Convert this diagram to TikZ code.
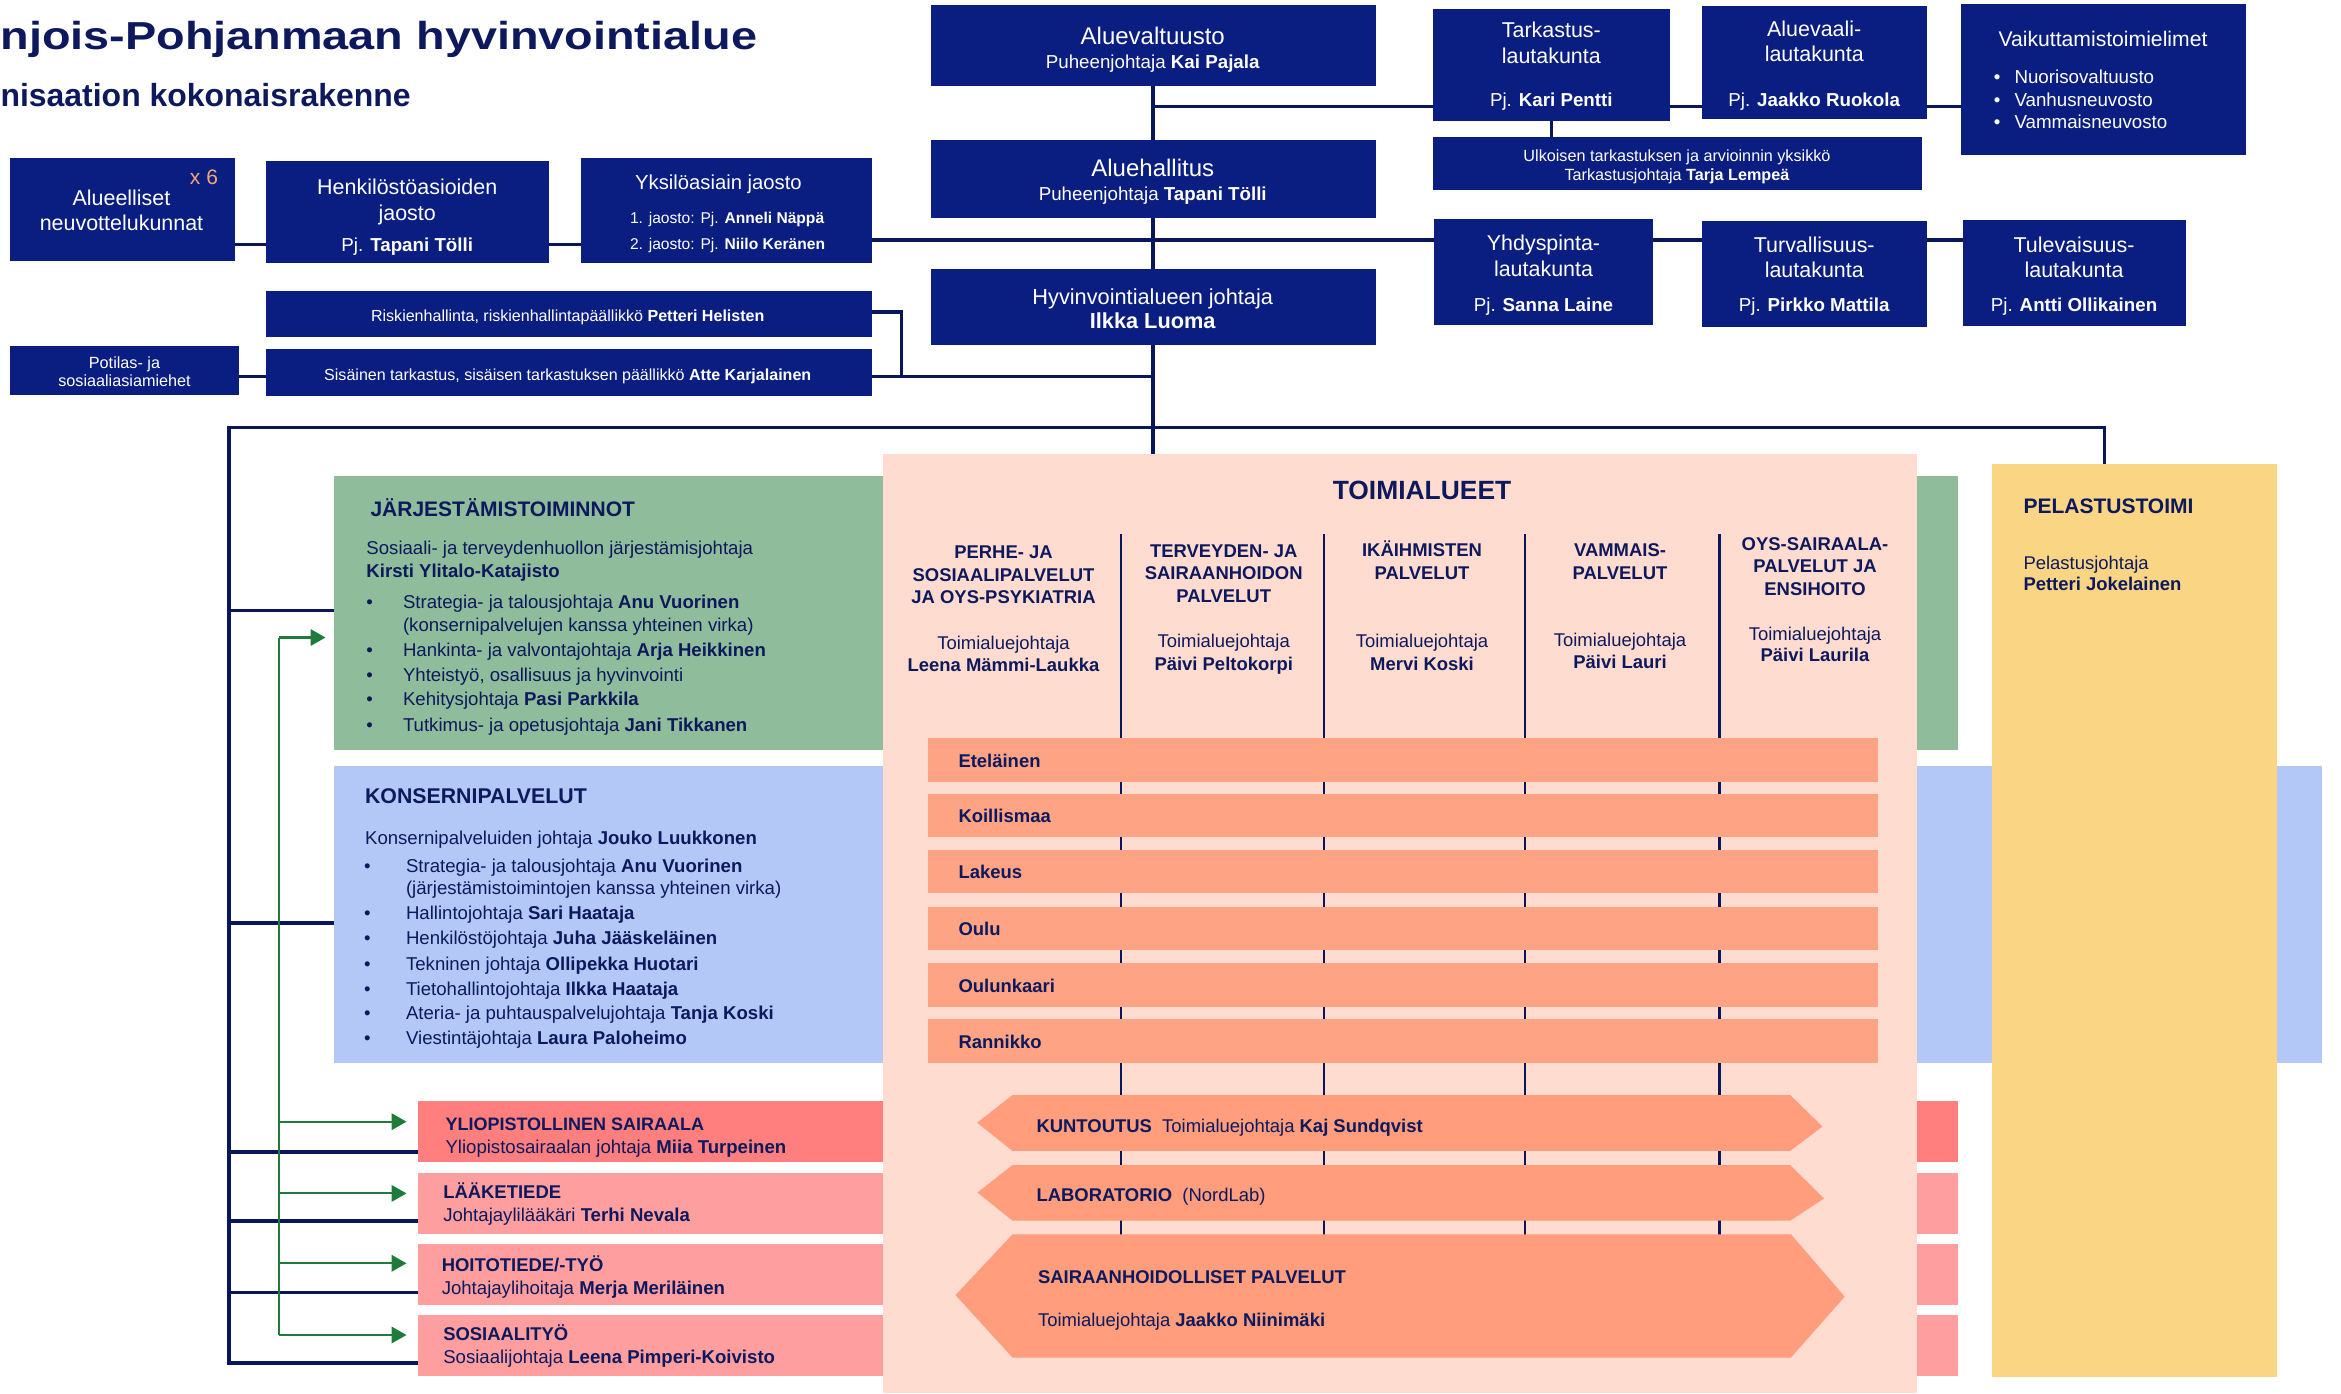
\documentclass[tikz,border=0pt]{standalone}
\usepackage{fontspec}
\usepackage{graphicx}
\setmainfont{Liberation Sans}
\usetikzlibrary{arrows.meta}

\definecolor{boxnavy}{RGB}{10,30,130}
\definecolor{linenavy}{RGB}{10,22,90}
\definecolor{txtnavy}{RGB}{13,25,92}
\definecolor{jgreen}{RGB}{143,188,154}
\definecolor{kblue}{RGB}{180,200,248}
\definecolor{peach}{RGB}{255,220,207}
\definecolor{barsal}{RGB}{255,163,133}
\definecolor{hexsal}{RGB}{255,157,124}
\definecolor{yred}{RGB}{255,127,127}
\definecolor{lpink}{RGB}{255,158,158}
\definecolor{pyellow}{RGB}{249,213,132}
\definecolor{agreen}{RGB}{30,123,58}
\definecolor{xorange}{RGB}{244,164,120}

\newcommand\mkbox[6][]{\node[rbox,#1,minimum width={#4-#2},minimum height={#5-#3}] (#6) at ({(#2+#4)/2},{(#3+#5)/2}) {};}
\newcommand\tlin[5][]{\node[tline,#1] (#2) at (#3,#4) {#5};}

\begin{document}
\begin{tikzpicture}[x=1pt,y=-1pt,
  rbox/.style={fill=boxnavy,draw=none,inner sep=0pt,outer sep=0pt},
  tline/.style={inner sep=0pt,outer sep=0pt,anchor=mid,text=white},
  dk/.style={text=txtnavy},
  lw/.style={anchor=mid west},
  fz/.style={font={\fontsize{#1}{#1}\selectfont},yshift={-0.18*#1}},
  conn/.style={draw=linenavy,line width=2.5pt},
  gline/.style={draw=agreen,line width=1.4pt},
  garr/.style={gline,-{Triangle[length=10pt,width=11pt]}},
  divl/.style={draw=linenavy,line width=1.6pt},
  hexa/.style={fill=hexsal}]
\useasboundingbox (0,0) rectangle (1560.67,928.67);
\fill[white] (0,0) rectangle (1560.67,928.67);

% ---------- titles
\node[inner sep=0pt,anchor=base east,text=txtnavy] (title) at (505,32.8)
  {\scalebox{1.2}[1]{\fontsize{26}{30}\selectfont\bfseries njois-Pohjanmaan hyvinvointialue}};
\node[inner sep=0pt,anchor=base east,text=txtnavy] (subtitle) at (274,70.9)
  {\fontsize{21.3}{24}\selectfont\bfseries nisaation kokonaisrakenne};

% ---------- top boxes
\mkbox{620.5}{3.5}{917}{57.5}{valt}
\mkbox{620.5}{93}{917}{145}{hall}
\mkbox{620.5}{179}{917}{230}{johtaja}
\mkbox{955.5}{6}{1113}{80.4}{tark}
\mkbox{1134.5}{4}{1284.5}{79}{alvaali}
\mkbox{1307}{2.7}{1497.5}{103}{vaik}
\mkbox{955.5}{91.3}{1281}{126.7}{ulk}
\mkbox{956}{146}{1102}{216.4}{yhd}
\mkbox{1134.5}{147.3}{1284.5}{218}{turv}
\mkbox{1308.5}{146.7}{1457}{217}{tulev}
\mkbox{6.5}{105.6}{156.5}{173.8}{alue}
\mkbox{177}{107}{366}{175}{henk}
\mkbox{387}{105.6}{581}{175}{yksi}
\mkbox{177}{194}{581}{224.4}{risk}
\mkbox{177}{232.7}{581}{263.8}{sis}
\mkbox{6.5}{230.7}{159.6}{263}{pot}

\tlin[fz=16]{valt1}{768.5}{24}{Aluevaltuusto}
\tlin[fz=12.5]{valt2}{768.5}{40.7}{Puheenjohtaja \textbf{Kai Pajala}}
\tlin[fz=16]{hall1}{768.5}{112}{Aluehallitus}
\tlin[fz=12.5]{hall2}{768.5}{129}{Puheenjohtaja \textbf{Tapani Tölli}}
\tlin[fz=14.5]{joht1}{768.5}{198}{Hyvinvointialueen johtaja}
\tlin[fz=14.5]{joht2}{768.5}{214}{\textbf{Ilkka Luoma}}
\tlin[fz=14.3]{tark1}{1034.2}{20}{Tarkastus-}
\tlin[fz=14.3]{tark2}{1034.2}{37}{lautakunta}
\tlin[fz=12.5]{tark3}{1034.2}{66}{Pj. \textbf{Kari Pentti}}
\tlin[fz=14.3]{alv1}{1209.5}{19}{Aluevaali-}
\tlin[fz=14.3]{alv2}{1209.5}{36}{lautakunta}
\tlin[fz=12.5]{alv3}{1209.5}{66}{Pj. \textbf{Jaakko Ruokola}}
\tlin[fz=14.1]{vaik0}{1402}{26}{Vaikuttamistoimielimet}
\foreach \y/\t [count=\i] in {51/Nuorisovaltuusto,66/Vanhusneuvosto,81/Vammaisneuvosto}{
  \node[tline,fz=12.5] (vb\i) at (1331.5,\y) {•};
  \node[tline,lw,fz=12.5] (vt\i) at (1343,\y) {\t};}
\tlin[fz=10.8]{ulk1}{1118}{103}{Ulkoisen tarkastuksen ja arvioinnin yksikkö}
\tlin[fz=10.8]{ulk2}{1118}{115.6}{Tarkastusjohtaja \textbf{Tarja Lempeä}}
\tlin[fz=14.3]{yhd1}{1029}{162}{Yhdyspinta-}
\tlin[fz=14.3]{yhd2}{1029}{179}{lautakunta}
\tlin[fz=12.5]{yhd3}{1029}{203}{Pj. \textbf{Sanna Laine}}
\tlin[fz=14.3]{turv1}{1209.5}{163}{Turvallisuus-}
\tlin[fz=14.3]{turv2}{1209.5}{180}{lautakunta}
\tlin[fz=12.5]{turv3}{1209.5}{203}{Pj. \textbf{Pirkko Mattila}}
\tlin[fz=14.3]{tul1}{1382.7}{163}{Tulevaisuus-}
\tlin[fz=14.3]{tul2}{1382.7}{180}{lautakunta}
\tlin[fz=12.5]{tul3}{1382.7}{203}{Pj. \textbf{Antti Ollikainen}}
\tlin[fz=14.3]{alue1}{81}{132}{Alueelliset}
\tlin[fz=14.3]{alue2}{81}{148.4}{neuvottelukunnat}
\tlin[fz=14,text=xorange]{alue3}{136}{118}{x 6}
\tlin[fz=14.3]{henk1}{271.5}{124.4}{Henkilöstöasioiden}
\tlin[fz=14.3]{henk2}{271.5}{141.6}{jaosto}
\tlin[fz=12.5]{henk3}{271.5}{163}{Pj. \textbf{Tapani Tölli}}
\tlin[fz=13.5]{yksi1}{479}{121}{Yksilöasiain jaosto}
\tlin[lw,fz=10.4]{yksi2}{420}{144.4}{1. jaosto: Pj. \textbf{Anneli Näppä}}
\tlin[lw,fz=10.4]{yksi3}{420}{161.8}{2. jaosto: Pj. \textbf{Niilo Keränen}}
\tlin[fz=10.7]{risk1}{378.5}{209.6}{Riskienhallinta, riskienhallintapäällikkö \textbf{Petteri Helisten}}
\tlin[fz=10.7]{sis1}{378.5}{249}{Sisäinen tarkastus, sisäisen tarkastuksen päällikkö \textbf{Atte Karjalainen}}
\tlin[fz=10.8]{pot1}{83}{241}{Potilas- ja}
\tlin[fz=10.8]{pot2}{83}{253}{sosiaaliasiamiehet}

% ---------- lower blocks
\mkbox[fill=jgreen]{222.6}{317.3}{1305}{499.7}{jarj}
\mkbox[fill=kblue]{222.6}{510.7}{1548}{708.5}{kons}
\mkbox[fill=yred]{278.6}{734}{1305}{774.4}{ylio}
\mkbox[fill=lpink]{278.6}{782}{1305}{822.4}{laak}
\mkbox[fill=lpink]{278.6}{829.3}{1305}{870}{hoito}
\mkbox[fill=lpink]{278.6}{876.7}{1305}{917.1}{sos}
\mkbox[fill=peach]{588.6}{302.6}{1278}{928.67}{toim}
\mkbox[fill=pyellow]{1328}{309}{1518}{918}{pel}

% ---------- connectors (top)
\coordinate (j71) at (768.5,71);
\coordinate (h160) at (0,160);
\coordinate (h163) at (0,163);
\coordinate (y208) at (0,208);
\coordinate (brk) at (601,251);
\draw[conn] (valt.south) -- (hall.north);
\draw[conn] (hall.south) -- (johtaja.north);
\draw[conn] (johtaja.south) -- (johtaja.south |- toim.north);
\draw[conn] (j71) -- (tark.west |- j71);
\draw[conn] (tark.east |- j71) -- (alvaali.west |- j71);
\draw[conn] (alvaali.east |- j71) -- (vaik.west |- j71);
\draw[conn] (tark.south) -- (tark.south |- ulk.north);
\draw[conn] (yksi.east |- h160) -- (yhd.west |- h160);
\draw[conn] (yhd.east |- h160) -- (turv.west |- h160);
\draw[conn] (turv.east |- h160) -- (tulev.west |- h160);
\draw[conn] (alue.east |- h163) -- (henk.west |- h163);
\draw[conn] (henk.east |- h163) -- (yksi.west |- h163);
\draw[conn] (risk.east |- y208) -| (brk);
\draw[conn] (sis.east |- brk) -- (johtaja.south |- brk);
\draw[conn] (pot.east |- brk) -- (sis.west |- brk);

% ---------- frame
\coordinate (fl) at (152.5,285);
\coordinate (fr) at (1403,285);
\coordinate (y407) at (0,407);
\coordinate (y615) at (0,615.4);
\coordinate (y768) at (0,767.8);
\coordinate (y814) at (0,814);
\coordinate (y862) at (0,861.6);
\coordinate (y908) at (0,908.5);
\draw[conn] (pel.north -| fr) -- (fr) -- (fl) |- (sos.west |- y908);
\draw[conn] (fl |- y407) -- (jarj.west |- y407);
\draw[conn] (fl |- y615) -- (kons.west |- y615);
\draw[conn] (fl |- y768) -- (ylio.west |- y768);
\draw[conn] (fl |- y814) -- (laak.west |- y814);
\draw[conn] (fl |- y862) -- (hoito.west |- y862);

% ---------- green arrows
\coordinate (g0) at (186,425);
\coordinate (g1) at (186,747.8);
\coordinate (g2) at (186,795.6);
\coordinate (g3) at (186,842.2);
\coordinate (g4) at (186,890);
\draw[gline] (g0) -- (g4);
\draw[garr,shorten >=5.6pt] (g0) -- (jarj.west |- g0);
\draw[garr,shorten >=7.6pt] (g1) -- (ylio.west |- g1);
\draw[garr,shorten >=7.6pt] (g2) -- (laak.west |- g2);
\draw[garr,shorten >=7.6pt] (g3) -- (hoito.west |- g3);
\draw[garr,shorten >=7.6pt] (g4) -- (sos.west |- g4);

% ---------- band texts
\tlin[dk,lw,fz=14]{jt0}{247}{339}{\textbf{JÄRJESTÄMISTOIMINNOT}}
\tlin[dk,lw,fz=12.4]{jt1}{244.3}{365}{Sosiaali- ja terveydenhuollon järjestämisjohtaja}
\tlin[dk,lw,fz=12.4]{jt2}{244.3}{380}{\textbf{Kirsti Ylitalo-Katajisto}}
\foreach \y/\t [count=\i] in {400.7/{Strategia- ja talousjohtaja \textbf{Anu Vuorinen}},
   433/{Hankinta- ja valvontajohtaja \textbf{Arja Heikkinen}},
   449.2/{Yhteistyö, osallisuus ja hyvinvointi},
   465.7/{Kehitysjohtaja \textbf{Pasi Parkkila}},
   482.6/{Tutkimus- ja opetusjohtaja \textbf{Jani Tikkanen}}}{
  \node[tline,dk,fz=12.4] (jb\i) at (246.4,\y) {•};
  \node[tline,dk,lw,fz=12.4] (jl\i) at (268.7,\y) {\t};}
\tlin[dk,lw,fz=12.4]{jt3}{268.7}{416}{(konsernipalvelujen kanssa yhteinen virka)}

\tlin[dk,lw,fz=14.2]{kt0}{243.4}{530.5}{\textbf{KONSERNIPALVELUT}}
\tlin[dk,lw,fz=12.4]{kt1}{243.4}{557.8}{Konsernipalveluiden johtaja \textbf{Jouko Luukkonen}}
\foreach \y/\t [count=\i] in {576.9/{Strategia- ja talousjohtaja \textbf{Anu Vuorinen}},
   608.3/{Hallintojohtaja \textbf{Sari Haataja}},
   625.1/{Henkilöstöjohtaja \textbf{Juha Jääskeläinen}},
   642/{Tekninen johtaja \textbf{Ollipekka Huotari}},
   658.5/{Tietohallintojohtaja \textbf{Ilkka Haataja}},
   675/{Ateria- ja puhtauspalvelujohtaja \textbf{Tanja Koski}},
   691.6/{Viestintäjohtaja \textbf{Laura Paloheimo}}}{
  \node[tline,dk,fz=12.4] (kb\i) at (245,\y) {•};
  \node[tline,dk,lw,fz=12.4] (kl\i) at (270.7,\y) {\t};}
\tlin[dk,lw,fz=12.4]{kt2}{270.7}{591.7}{(järjestämistoimintojen kanssa yhteinen virka)}

\tlin[dk,lw,fz=12]{yl1}{297}{748.9}{\textbf{YLIOPISTOLLINEN SAIRAALA}}
\tlin[dk,lw,fz=12.4]{yl2}{297}{764}{Yliopistosairaalan johtaja \textbf{Miia Turpeinen}}
\tlin[dk,lw,fz=12.3]{la1}{295.5}{794.4}{\textbf{LÄÄKETIEDE}}
\tlin[dk,lw,fz=12.4]{la2}{295.5}{809.3}{Johtajaylilääkäri \textbf{Terhi Nevala}}
\tlin[dk,lw,fz=12.3]{ho1}{294.5}{842.7}{\textbf{HOITOTIEDE/-TYÖ}}
\tlin[dk,lw,fz=12.4]{ho2}{294.5}{858.4}{Johtajaylihoitaja \textbf{Merja Meriläinen}}
\tlin[dk,lw,fz=12.3]{so1}{295.5}{888.9}{\textbf{SOSIAALITYÖ}}
\tlin[dk,lw,fz=12.4]{so2}{295.5}{904}{Sosiaalijohtaja \textbf{Leena Pimperi-Koivisto}}

\tlin[dk,lw,fz=14]{pe1}{1349}{337}{\textbf{PELASTUSTOIMI}}
\tlin[dk,lw,fz=12.3]{pe2}{1349}{375}{Pelastusjohtaja}
\tlin[dk,lw,fz=12.3]{pe3}{1349}{389}{\textbf{Petteri Jokelainen}}

% ---------- toimialueet interior
\foreach \x in {747.5,882.5,1016.7,1146.3} \draw[divl] (\x,356) -- (\x,823);
\tlin[dk,fz=17.6]{toim0}{948}{327}{\textbf{TOIMIALUEET}}

\tlin[dk,fz=12.3]{c1a}{669}{367.5}{\textbf{PERHE- JA}}
\tlin[dk,fz=12.3]{c1b}{669}{382.5}{\textbf{SOSIAALIPALVELUT}}
\tlin[dk,fz=12.3]{c1c}{669}{397.5}{\textbf{JA OYS-PSYKIATRIA}}
\tlin[dk,fz=12.3]{c1d}{669}{428}{Toimialuejohtaja}
\tlin[dk,fz=12.3]{c1e}{669}{442.5}{\textbf{Leena Mämmi-Laukka}}

\tlin[dk,fz=12.3]{c2a}{815.8}{366.8}{\textbf{TERVEYDEN- JA}}
\tlin[dk,fz=12.3]{c2b}{815.8}{381.8}{\textbf{SAIRAANHOIDON}}
\tlin[dk,fz=12.3]{c2c}{815.8}{397}{\textbf{PALVELUT}}
\tlin[dk,fz=12.3]{c2d}{815.8}{427}{Toimialuejohtaja}
\tlin[dk,fz=12.3]{c2e}{815.8}{441.9}{\textbf{Päivi Peltokorpi}}

\tlin[dk,fz=12.3]{c3a}{948}{366.3}{\textbf{IKÄIHMISTEN}}
\tlin[dk,fz=12.3]{c3b}{948}{381.8}{\textbf{PALVELUT}}
\tlin[dk,fz=12.3]{c3d}{948}{427}{Toimialuejohtaja}
\tlin[dk,fz=12.3]{c3e}{948}{442}{\textbf{Mervi Koski}}

\tlin[dk,fz=12.3]{c4a}{1080}{366.3}{\textbf{VAMMAIS-}}
\tlin[dk,fz=12.3]{c4b}{1080}{381.8}{\textbf{PALVELUT}}
\tlin[dk,fz=12.3]{c4d}{1080}{426}{Toimialuejohtaja}
\tlin[dk,fz=12.3]{c4e}{1080}{440.5}{\textbf{Päivi Lauri}}

\tlin[dk,fz=12.3]{c5a}{1210}{362}{\textbf{OYS-SAIRAALA-}}
\tlin[dk,fz=12.3]{c5b}{1210}{377}{\textbf{PALVELUT JA}}
\tlin[dk,fz=12.3]{c5c}{1210}{392}{\textbf{ENSIHOITO}}
\tlin[dk,fz=12.3]{c5d}{1210}{422}{Toimialuejohtaja}
\tlin[dk,fz=12.3]{c5e}{1210}{436}{\textbf{Päivi Laurila}}

\foreach \y/\n [count=\i] in {492/Eteläinen,529/Koillismaa,566.5/Lakeus,604.5/Oulu,642/Oulunkaari,679.5/Rannikko}{
  \mkbox[fill=barsal]{618.5}{\y}{1251.7}{\y+29}{bar\i}
  \node[tline,dk,lw,fz=12.3] (bt\i) at (639,\y+14.5) {\textbf{\n}};}

% hexagonal bands
\fill[hexa] (651.4,748.5) -- (675,730) -- (1193.4,730) -- (1215,751) -- (1193.4,767.3) -- (675,767.3) -- cycle;
\fill[hexa] (651.6,795) -- (675,776.7) -- (1193.4,776.7) -- (1216,799) -- (1193.4,813.8) -- (675,813.8) -- cycle;
\fill[hexa] (637,863.4) -- (675,822.9) -- (1194,822.9) -- (1229.8,864.4) -- (1194,905) -- (675,905) -- cycle;
\tlin[dk,lw,fz=12.3]{ku1}{691}{750.4}{\textbf{KUNTOUTUS}\ \ Toimialuejohtaja \textbf{Kaj Sundqvist}}
\tlin[dk,lw,fz=12.3]{lb1}{691}{796}{\textbf{LABORATORIO}\ \ (NordLab)}
\tlin[dk,lw,fz=12.3]{sa1}{692}{851}{\textbf{SAIRAANHOIDOLLISET PALVELUT}}
\tlin[dk,lw,fz=12.3]{sa2}{692}{879.6}{Toimialuejohtaja \textbf{Jaakko Niinimäki}}
\end{tikzpicture}
\end{document}
